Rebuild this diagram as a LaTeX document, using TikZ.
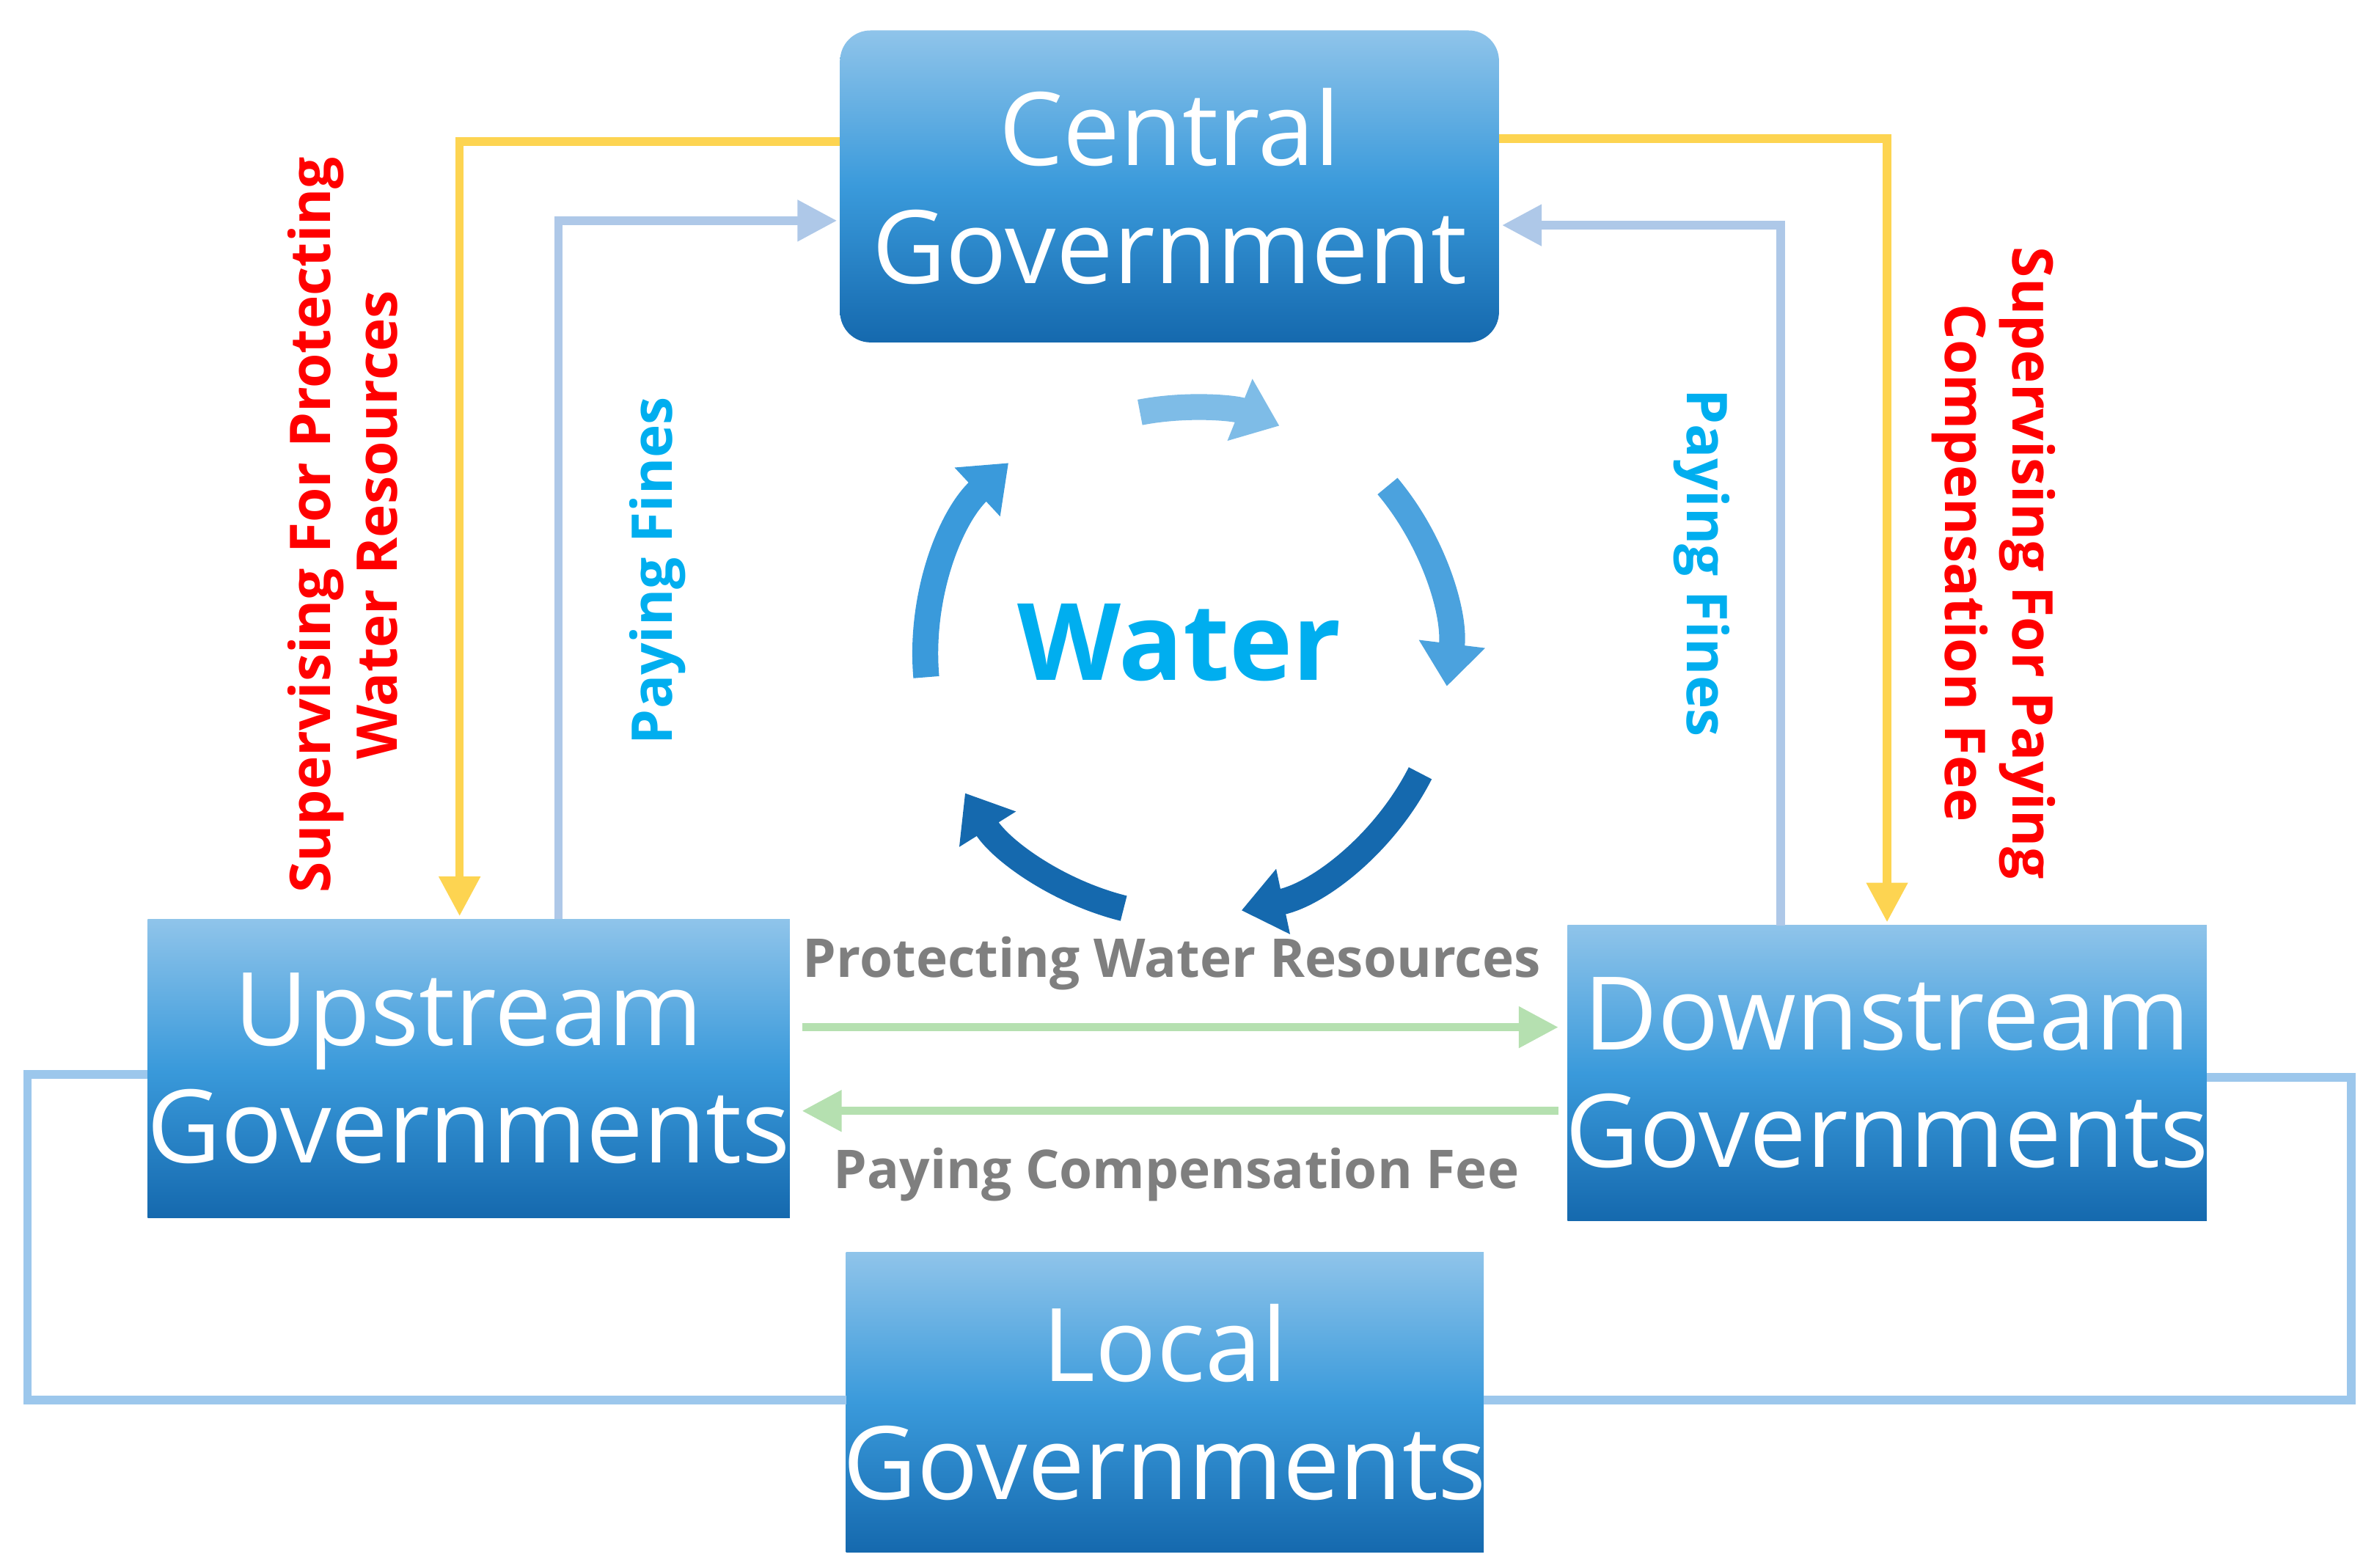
\documentclass[tikz,border=0pt]{standalone}
\usepackage{fontspec}
\setmainfont{Open Sans}
\usetikzlibrary{arrows.meta}
\definecolor{ylw}{HTML}{FDD451}
\definecolor{lb}{HTML}{AEC8E8}
\definecolor{grn}{HTML}{B5E0B0}
\definecolor{lk}{HTML}{9CC7EC}
\definecolor{rd}{HTML}{FF0000}
\definecolor{cy}{HTML}{00AEEF}
\definecolor{gy}{HTML}{7F7F7F}
\definecolor{bxt}{HTML}{8FC4EA}
\definecolor{bxb}{HTML}{1569AE}
\definecolor{bxm}{HTML}{3A9ADB}
\begin{document}
\begin{tikzpicture}[
 box/.style={shading=axis,top color=bxt,bottom color=bxb,middle color=bxm},
 btx/.style={text=white,align=center,inner sep=0,font=\fontsize{19}{22}\selectfont},
 conn/.style={line width=0.055cm},
 tip/.style={-{Triangle[width=0.26cm,length=0.26cm]}},
 cyc/.style={line width=0.17cm,-{Triangle[width=0.42cm,length=0.28cm]}},
 red/.style={text=rd,font=\bfseries\fontsize{10.5}{12.5}\selectfont,align=center},
 fin/.style={text=cy,font=\bfseries\fontsize{10.5}{12.5}\selectfont},
 gl/.style={text=gy,font=\bfseries\fontsize{10}{12}\selectfont}]
\useasboundingbox (0,0) rectangle (15.6,10.3);
\path[box,rounded corners=0.2cm] (5.52,8.05) rectangle (9.85,10.1);
\node[btx] (cg) at (7.685,9.075) {Central\\Government};
\path[box] (0.97,2.30) rectangle (5.19,4.26);
\node[btx] (up) at (3.08,3.28) {Upstream\\Governments};
\path[box] (10.30,2.28) rectangle (14.50,4.22);
\node[btx] (dn) at (12.40,3.25) {Downstream\\Governments};
\path[box] (5.56,0.10) rectangle (9.75,2.07);
\node[btx] (lc) at (7.655,1.085) {Local\\Governments};
% coordinates
\coordinate (a1) at (5.52,9.37); \coordinate (a2) at (3.02,4.28);
\coordinate (b1) at (9.85,9.39); \coordinate (b2) at (12.40,4.24);
\coordinate (c1) at (3.67,4.26); \coordinate (c2) at (5.50,8.85);
\coordinate (d1) at (11.70,4.22); \coordinate (d2) at (9.87,8.82);
\coordinate (g1) at (5.27,3.55); \coordinate (g2) at (10.24,3.55);
\coordinate (h1) at (10.24,3.00); \coordinate (h2) at (5.27,3.00);
\coordinate (l1) at (0.97,3.24); \coordinate (l2) at (5.56,1.10);
\coordinate (r1) at (14.50,3.22); \coordinate (r2) at (9.75,1.10);
\draw[conn,ylw,tip] (a1) -| (a2);
\draw[conn,ylw,tip] (b1) -| (b2);
\draw[conn,lb,tip] (c1) |- (c2);
\draw[conn,lb,tip] (d1) |- (d2);
\draw[conn,grn,tip] (g1) -- (g2);
\draw[conn,grn,tip] (h1) -- (h2);
\draw[conn,lk] (l1) -- (0.18,3.24) -- (0.18,1.10) -- (l2);
\draw[conn,lk] (r1) -- (15.45,3.22) -- (15.45,1.10) -- (r2);
% labels
\node[red,rotate=90] (s1) at (2.25,6.85) {Supervising For Protecting\\Water Resources};
\node[fin,rotate=90] (p1) at (4.32,6.55) {Paying Fines};
\node[fin,rotate=-90] (p2) at (11.18,6.6) {Paying Fines};
\node[red,rotate=-90] (s2) at (13.1,6.6) {Supervising For Paying\\Compensation Fee};
\node[gl] (t1) at (7.7,3.97) {Protecting Water Resources};
\node[gl] (t2) at (7.73,2.58) {Paying Compensation Fee};
\node[text=cy,font=\bfseries\fontsize{20}{24}\selectfont] (w) at (7.75,6.08) {Water};
% cycle
\coordinate (o) at (7.8,6.0);
\draw[cyc,bxt!80!bxm] ([shift={(101:1.62)}]o) arc (101:68:1.62);
\draw[cyc,bxm!80!bxt] ([shift={(40:1.72)}]o) arc (40:-7:1.72);
\draw[cyc,bxb] ([shift={(-27:1.72)}]o) arc (-27:-78:1.72);
\draw[cyc,bxb] ([shift={(-104:1.72)}]o) arc (-104:-148:1.72);
\draw[cyc,bxm] ([shift={(185:1.72)}]o) arc (185:133:1.72);
\end{tikzpicture}
\end{document}
